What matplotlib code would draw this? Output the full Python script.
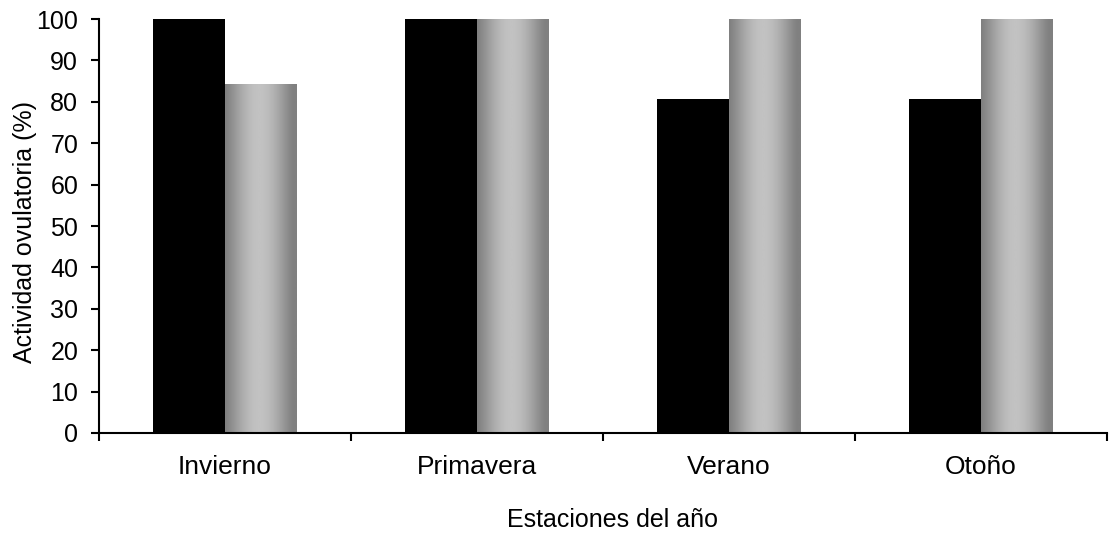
import matplotlib.pyplot as plt
import numpy as np

plt.rcParams['font.family'] = ['Liberation Sans', 'DejaVu Sans']

seasons = ["Invierno", "Primavera", "Verano", "Otoño"]
serie_negra = [100, 100, 80.6, 80.6]
serie_gris = [84.4, 100, 100, 100]
y_ticks = [0, 10, 20, 30, 40, 50, 60, 70, 80, 90, 100]


def gradientBar(ax, x, height, width):
    # bar outline, then a horizontal dark-light-dark gradient clipped to it
    bar = ax.bar(x, height, width, align='edge', color='none', linewidth=0)[0]
    t = np.linspace(0, 1, 256)
    shade = 0.50 + 0.26 * np.sin(np.pi * np.clip(t * 1.05, 0, 1)) ** 1.2
    img = ax.imshow(shade[np.newaxis, :], cmap='gray', vmin=0, vmax=1,
                    extent=(x, x + width, 0, height), aspect='auto',
                    interpolation='bilinear', zorder=2)
    img.set_clip_path(bar)


fig = plt.figure(figsize=(11.1, 5.39), dpi=100)
ax = fig.add_axes([0.0892, 0.1967, 0.9078, 0.768])

w = 72 / 252
x = np.arange(len(seasons))
ax.bar(x - w, serie_negra, w, align='edge', color='black', zorder=2)
for i in range(len(seasons)):
    gradientBar(ax, x[i], serie_gris[i], w)

ax.set_xlim(-0.5, len(seasons) - 0.5)
ax.set_ylim(0, 100)
ax.set_yticks(y_ticks)
ax.set_yticklabels([str(v) for v in y_ticks], fontsize=18)
ax.set_xticks(x)
ax.set_xticklabels(seasons, fontsize=19)
ax.tick_params(axis='x', length=0, pad=16)
ax.set_xticks(np.arange(len(seasons) + 1) - 0.5, minor=True)
ax.tick_params(axis='x', which='minor', length=6, width=1.5, direction='out')
ax.tick_params(axis='y', length=6, width=1.5, direction='out', pad=9)

for side in ['top', 'right']:
    ax.spines[side].set_visible(False)
for side in ['left', 'bottom']:
    ax.spines[side].set_linewidth(1.5)

ax.set_ylabel("Actividad ovulatoria (%)", fontsize=18, va='center')
ax.yaxis.set_label_coords(-0.0734, 0.4855)
ax.set_xlabel("Estaciones del año", fontsize=18, va='center')
ax.xaxis.set_label_coords(0.51, -0.21)

fig.savefig("out.png", dpi=100)
